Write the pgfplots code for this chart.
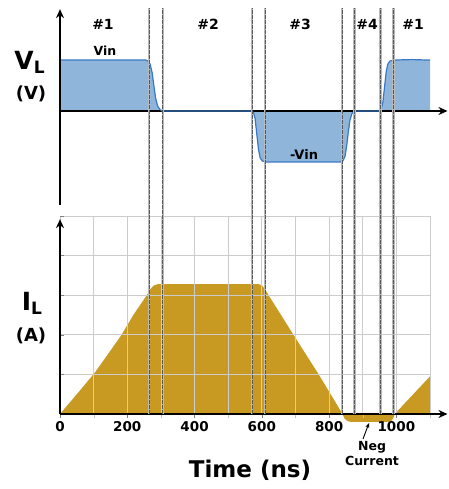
\documentclass[border=0pt]{standalone}
\usepackage{pgfplots}
\pgfplotsset{compat=1.18}
\usepackage{fontspec}
\setmainfont{DejaVu Sans}
\usetikzlibrary{arrows.meta}
\definecolor{vfill}{RGB}{143,181,218}
\definecolor{vline}{RGB}{58,120,196}
\definecolor{ifill}{RGB}{200,154,34}
\newcommand\fs[1]{\fontsize{#1}{#1}\selectfont}
\tikzset{ax/.style={line width=1.9pt,-{Stealth[length=9pt,width=8pt]}},
  sw/.style={gray!55,line width=2.4pt},
  sd/.style={black!65,line width=0.9pt,dash pattern=on 3.5pt off 1.5pt}}

\begin{document}
\begin{tikzpicture}[font=\bfseries]

% inductor voltage
\begin{axis}[at={(60pt,378pt)},anchor=origin,scale only axis,width=370pt,height=196pt,
  xmin=0,xmax=1100,ymin=-1.85,ymax=2,hide axis,clip=false]
\addplot[fill=vfill,draw=none] coordinates {(0,0) (0,1) (255,1) (262,0.98) (268,0.92) (274,0.75) (279,0.5) (284,0.26) (290,0.1) (297,0.03) (304,0)
  (570,0) (575,-0.03) (580,-0.15) (585,-0.45) (590,-0.75) (595,-0.92) (601,-0.98) (610,-1)
  (834,-1) (841,-0.98) (847,-0.9) (852,-0.7) (857,-0.42) (862,-0.18) (868,-0.05) (875,0)
  (950,0) (955,0.04) (960,0.18) (965,0.48) (970,0.78) (975,0.93) (981,0.98) (990,1) (1045,1.01) (1100,1) (1100,0)} -- cycle;
\draw[line width=1.9pt] (axis cs:0,0) -- (axis cs:1100,0);
\addplot[vline,line width=1.2pt] coordinates {(0,1) (255,1) (262,0.98) (268,0.92) (274,0.75) (279,0.5) (284,0.26) (290,0.1) (297,0.03) (304,0)
  (570,0) (575,-0.03) (580,-0.15) (585,-0.45) (590,-0.75) (595,-0.92) (601,-0.98) (610,-1)
  (834,-1) (841,-0.98) (847,-0.9) (852,-0.7) (857,-0.42) (862,-0.18) (868,-0.05) (875,0)
  (950,0) (955,0.04) (960,0.18) (965,0.48) (970,0.78) (975,0.93) (981,0.98) (990,1) (1045,1.01) (1100,1)};
\draw[ax] (axis cs:1090,0) -- (axis cs:1152,0);
\draw[ax] (axis cs:0,-1.85) -- (axis cs:0,2);
\end{axis}

% inductor current
\begin{axis}[at={(60pt,75pt)},anchor=origin,scale only axis,width=370pt,height=198pt,
  xmin=0,xmax=1100,ymin=0,ymax=5,clip=false,set layers,
  axis lines=left,axis line style={draw=none},
  xtick={0,200,...,1000},minor xtick={100,300,...,1100},
  ytick={1,...,5},yticklabels={},ytick align=inside,xtick align=outside,
  major tick length=4pt,minor tick length=4pt,
  minor tick style={gray!50},
  grid=both,grid style={gray!40,line width=0.8pt},minor grid style={gray!40,line width=0.8pt},
  xticklabel style={font=\bfseries\fs{13.5}},
  /pgf/number format/set thousands separator={},
  /pgf/number format/assume math mode=true]
\addplot[on layer=axis background,fill=ifill,draw=none] coordinates {(0,0) (55,0.55) (104,1.05) (150,1.6) (183,2) (218,2.5) (258,3.0) (270,3.17) (280,3.25) (292,3.28)
  (590,3.28) (600,3.25) (610,3.14) (620,3.0) (694,2) (769,1) (840,0)
  (846,-0.12) (855,-0.18) (865,-0.2) (975,-0.2) (985,-0.18) (991,-0.1) (995,0) (1100,0.95) (1100,0)} -- cycle;
\draw[ax] (axis cs:0,0) -- (axis cs:1152,0);
\draw[ax] (axis cs:0,0) -- (axis cs:0,4.92);
\pgfplotsinvokeforeach{265,306,571,610,839,875,953,991}{
  \draw[sw] (axis cs:#1,0) -- (axis cs:#1,10.25);
  \draw[sd] (axis cs:#1,0) -- (axis cs:#1,10.25);
}
\end{axis}

\node at (103pt,465pt) {\fs{14}\#1};
\node at (208pt,465pt) {\fs{14}\#2};
\node at (300pt,465pt) {\fs{14}\#3};
\node at (367pt,465pt) {\fs{14}\#4};
\node at (413pt,465pt) {\fs{14}\#1};
\node at (105pt,438pt) {\fs{12.5}Vin};
\node at (304pt,334pt) {\fs{13}-Vin};
\node at (29.5pt,427pt) {\fs{25}V\raisebox{-4pt}{\fs{17}L}};
\node at (31pt,395pt) {\fs{18}(V)};
\node at (32pt,186pt) {\fs{25}I\raisebox{-4pt}{\fs{17}L}};
\node at (31pt,153pt) {\fs{18}(A)};
\node at (250pt,19pt) {\fs{23}Time (ns)};
\node at (372pt,42pt) {\fs{12.5}Neg};
\node at (372pt,28pt) {\fs{12.5}Current};
\draw[line width=0.9pt,-{Stealth[length=5pt,width=4pt]}] (363pt,50pt) -- (369pt,66pt);
\path (0pt,0pt) rectangle (448pt,489pt);
\end{tikzpicture}
\end{document}
